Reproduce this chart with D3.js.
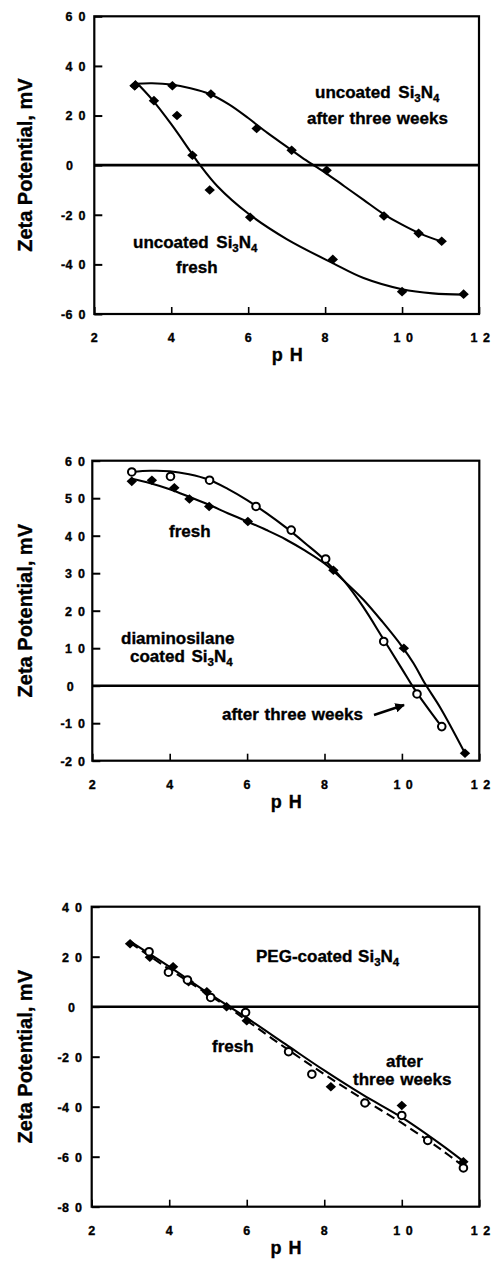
<!DOCTYPE html>
<html>
<head>
<meta charset="utf-8">
<script src="https://cdn.jsdelivr.net/npm/d3@7"></script>
<style>
  html, body { margin: 0; padding: 0; background: #fff; }
  svg { display: block; }
  text { font-family: "Liberation Sans", Arial, Helvetica, sans-serif; font-weight: bold; fill: #000; stroke: #000; stroke-width: 0.35px; }
</style>
</head>
<body>
<svg id="chart" width="496" height="1263"></svg>
<script>
// ---------------- DATA ----------------
const xTicks = [2, 4, 6, 8, 10, 12];
const p1YTicks = [-60, -40, -20, 0, 20, 40, 60];
const p2YTicks = [-20, -10, 0, 10, 20, 30, 40, 50, 60];
const p3YTicks = [-80, -60, -40, -20, 0, 20, 40];

// Panel 1: uncoated Si3N4
const p1FreshPts = [[3.05, 32], [3.55, 26], [4.15, 20], [4.55, 4], [5.0, -10], [6.05, -21], [8.2, -38], [10.0, -51], [11.6, -52]];
const p1AgedPts  = [[3.05, 32], [4.03, 32], [5.03, 28.7], [6.22, 14.8], [7.13, 6], [8.04, -2.1], [9.53, -20.5], [10.43, -27.5], [11.03, -30.7]];
const p1FreshFit = [[3.05, 34], [3.5, 26.5], [4.0, 16.5], [4.5, 5.5], [4.75, 0], [5.2, -8.5], [6.0, -19.5], [7.0, -29.8], [8.2, -39.5], [9.0, -45.5], [10.0, -50], [10.8, -51.7], [11.6, -52.2]];
const p1AgedFit  = [[3.05, 32.8], [3.5, 33], [4.0, 32.5], [4.5, 31], [5.0, 28.7], [5.5, 24.5], [6.0, 19], [6.5, 13], [7.0, 7.5], [7.5, 2], [7.75, -0.5], [8.0, -3], [8.5, -8.5], [9.0, -14], [9.5, -19.5], [10.0, -24], [10.5, -27.8], [11.03, -30.8]];

// Panel 2: diaminosilane coated Si3N4
const p2FreshPts = [[3.02, 54.5], [3.54, 54.8], [4.12, 52.8], [4.51, 49.8], [5.02, 47.8], [6.02, 43.8], [8.23, 30.8], [10.05, 10], [11.63, -18]];
const p2AgedPts  = [[3.02, 57], [4.02, 55.8], [5.03, 54.8], [6.23, 47.8], [7.14, 41.5], [8.03, 33.8], [9.53, 11.8], [10.39, -2.2], [11.03, -10.9]];
const p2FreshFit = [[3.02, 55.2], [3.5, 54], [4.0, 52.4], [4.5, 50.4], [5.0, 48.3], [5.5, 46], [6.0, 43.8], [6.5, 41.5], [7.0, 39], [7.5, 36], [8.0, 32.6], [8.5, 28], [9.0, 23], [9.5, 17], [10.0, 10.5], [10.3, 6], [10.6, 0.5], [11.0, -6], [11.63, -18]];
const p2AgedFit  = [[3.02, 57], [3.5, 57.3], [4.0, 57.2], [4.5, 56.4], [5.0, 55], [5.5, 52.5], [6.0, 49.5], [6.5, 46], [7.0, 42.2], [7.5, 38], [8.0, 33.6], [8.5, 28], [9.0, 21], [9.5, 12.8], [10.0, 4.5], [10.3, -0.5], [10.6, -5], [11.03, -11]];

// Panel 3: PEG-coated Si3N4
const p3FreshPts = [[2.99, 25.2], [3.5, 19.8], [4.1, 16], [4.5, 10], [4.97, 6], [5.48, 0], [6.0, -5.6], [8.17, -32], [10.0, -39.5], [11.59, -62]];
const p3AgedPts  = [[3.48, 22], [3.98, 13.8], [4.47, 10.7], [5.07, 3.7], [5.97, -2.3], [7.08, -18], [7.68, -27], [9.05, -38.5], [10.0, -43.5], [10.67, -53.5], [11.59, -64.5]];
const p3FreshFit = [[3.0, 26], [4.0, 16], [5.0, 5.5], [5.5, 0.5], [6.0, -4.5], [7.0, -15], [8.0, -25.5], [9.0, -35.3], [10.0, -44.3], [11.0, -55], [11.6, -62]];
const p3AgedFit  = [[3.0, 25.5], [4.0, 15], [5.0, 5], [5.5, 0], [6.0, -5.5], [7.0, -16.5], [8.0, -27], [9.0, -37], [10.0, -46.5], [11.0, -57], [11.6, -64]];

// ---------------- DRAWING ----------------
const svg = d3.select("#chart");

const defs = svg.append("defs");
defs.append("marker")
  .attr("id", "arrow").attr("viewBox", "0 0 10 10")
  .attr("refX", 9).attr("refY", 5)
  .attr("markerWidth", 4).attr("markerHeight", 4)
  .attr("orient", "auto")
  .append("path").attr("d", "M0,0 L10,5 L0,10 Z").attr("fill", "#000");

function addSiN(sel) {
  sel.append("tspan").text("Si");
  sel.append("tspan").attr("dy", 4).attr("font-size", "11.5px").text("3");
  sel.append("tspan").attr("dy", -4).text("N");
  sel.append("tspan").attr("dy", 4).attr("font-size", "11.5px").text("4");
}

const annSize = "17px";

function drawPanel(cfg) {
  const x = d3.scaleLinear().domain([2, 12]).range([cfg.left, cfg.right]);
  const y = d3.scaleLinear().domain(cfg.yDomain).range([cfg.bottom, cfg.top]);
  const g = svg.append("g");

  // ticks (inward)
  const yAxis = d3.axisLeft(y).tickValues(cfg.yTicks).tickSize(-8).tickFormat("");
  g.append("g").attr("transform", `translate(${cfg.left},0)`).call(yAxis)
    .call(s => s.select(".domain").remove())
    .call(s => s.selectAll(".tick line").attr("stroke", "#000").attr("stroke-width", 2));
  const xAxis = d3.axisBottom(x).tickValues(xTicks).tickSize(-7).tickFormat("");
  g.append("g").attr("transform", `translate(0,${cfg.bottom})`).call(xAxis)
    .call(s => s.select(".domain").remove())
    .call(s => s.selectAll(".tick line").attr("stroke", "#000").attr("stroke-width", 1.6));

  // frame
  g.append("rect")
    .attr("x", cfg.left).attr("y", cfg.top)
    .attr("width", cfg.right - cfg.left).attr("height", cfg.bottom - cfg.top)
    .attr("fill", "none").attr("stroke", "#000").attr("stroke-width", 2.2);

  // zero line
  g.append("line")
    .attr("x1", x(2)).attr("x2", x(12)).attr("y1", y(0)).attr("y2", y(0))
    .attr("stroke", "#000").attr("stroke-width", 2.6);

  // y tick labels
  cfg.yTicks.forEach(v => {
    const yy = y(v) + 4.8;
    const digits = String(Math.abs(v));
    const sx = v === 0 ? cfg.zeroX : cfg.labelX;
    g.append("text").attr("x", sx).attr("y", yy)
      .attr("font-size", "12.5px").attr("letter-spacing", "6px").text(digits);
    if (v < 0) {
      g.append("text").attr("x", sx - 0.3).attr("y", yy)
        .attr("text-anchor", "end").attr("font-size", "12.5px").text("-");
    }
  });
  // x tick labels
  xTicks.forEach(v => {
    const s = String(v);
    const t = g.append("text").attr("y", cfg.bottom + 28)
      .attr("font-size", "12.5px").attr("letter-spacing", "5.5px").text(s);
    if (s.length === 1) t.attr("x", x(v) - 3.5);
    else t.attr("x", x(v) - 8.5);
  });

  // axis titles
  g.append("text")
    .attr("x", (cfg.left + cfg.right) / 2 + 1).attr("y", cfg.bottom + 47)
    .attr("text-anchor", "middle").attr("font-size", "18px").attr("letter-spacing", "1px")
    .text("p H");
  g.append("text")
    .attr("transform", `translate(32,${(cfg.top + cfg.bottom) / 2}) rotate(-90)`)
    .attr("text-anchor", "middle").attr("font-size", "20px")
    .text("Zeta Potential, mV");

  const line = d3.line().x(d => x(d[0])).y(d => y(d[1])).curve(d3.curveCatmullRom.alpha(0.5));

  cfg.curves.forEach(c => {
    g.append("path").attr("d", line(c.data))
      .attr("fill", "none").attr("stroke", "#000").attr("stroke-width", 2.1)
      .attr("stroke-dasharray", c.dash || null);
  });

  cfg.points.forEach(p => {
    if (p.type === "diamond") {
      g.selectAll(null).data(p.data).join("path")
        .attr("transform", d => `translate(${x(d[0])},${y(d[1])})`)
        .attr("d", "M0,-4.8 L5.2,0 L0,4.8 L-5.2,0 Z").attr("fill", "#000");
    } else {
      g.selectAll(null).data(p.data).join("circle")
        .attr("cx", d => x(d[0])).attr("cy", d => y(d[1])).attr("r", 3.8)
        .attr("fill", "#fff").attr("stroke", "#000").attr("stroke-width", 2);
    }
  });
  return g;
}

// Panel 1
const g1 = drawPanel({
  left: 94.3, right: 479, top: 16.3, bottom: 314, yDomain: [-60, 60], yTicks: p1YTicks,
  labelX: 65.5, zeroX: 66,
  curves: [{ data: p1FreshFit }, { data: p1AgedFit }],
  points: [{ type: "diamond", data: p1FreshPts }, { type: "diamond", data: p1AgedPts }]
});
let t = g1.append("text").attr("x", 315).attr("y", 98).attr("font-size", annSize).attr("word-spacing", "3px");
t.append("tspan").text("uncoated  "); addSiN(t);
g1.append("text").attr("x", 307).attr("y", 124).attr("font-size", annSize).attr("word-spacing", "1px").text("after three weeks");
t = g1.append("text").attr("x", 133).attr("y", 248).attr("font-size", annSize).attr("word-spacing", "3px");
t.append("tspan").text("uncoated  "); addSiN(t);
g1.append("text").attr("x", 176).attr("y", 273).attr("font-size", annSize).text("fresh");

// Panel 2
const g2 = drawPanel({
  left: 92.3, right: 479.3, top: 460.7, bottom: 760.7, yDomain: [-20, 60], yTicks: p2YTicks,
  labelX: 65, zeroX: 66.7,
  curves: [{ data: p2FreshFit }, { data: p2AgedFit }],
  points: [{ type: "diamond", data: p2FreshPts }, { type: "circle", data: p2AgedPts }]
});
g2.append("text").attr("x", 169).attr("y", 537).attr("font-size", annSize).text("fresh");
g2.append("text").attr("x", 121).attr("y", 644).attr("font-size", annSize).text("diaminosilane");
t = g2.append("text").attr("x", 130).attr("y", 662).attr("font-size", annSize).attr("word-spacing", "2px");
t.append("tspan").text("coated "); addSiN(t);
g2.append("text").attr("x", 222).attr("y", 720).attr("font-size", annSize).attr("word-spacing", "1px").text("after three weeks");
g2.append("line").attr("x1", 374).attr("y1", 715).attr("x2", 404).attr("y2", 705)
  .attr("stroke", "#000").attr("stroke-width", 2.4).attr("marker-end", "url(#arrow)");

// Panel 3
const g3 = drawPanel({
  left: 91.7, right: 479.3, top: 906.7, bottom: 1206.7, yDomain: [-80, 40], yTicks: p3YTicks,
  labelX: 62, zeroX: 68,
  curves: [{ data: p3FreshFit }, { data: p3AgedFit, dash: "9,5" }],
  points: [{ type: "diamond", data: p3FreshPts }, { type: "circle", data: p3AgedPts }]
});
t = g3.append("text").attr("x", 256).attr("y", 962).attr("font-size", annSize).attr("word-spacing", "1px");
t.append("tspan").text("PEG-coated "); addSiN(t);
g3.append("text").attr("x", 212).attr("y", 1052).attr("font-size", annSize).text("fresh");
g3.append("text").attr("x", 386).attr("y", 1067).attr("font-size", annSize).text("after");
g3.append("text").attr("x", 353).attr("y", 1085).attr("font-size", annSize).attr("word-spacing", "1px").text("three weeks");
</script>
</body>
</html>
